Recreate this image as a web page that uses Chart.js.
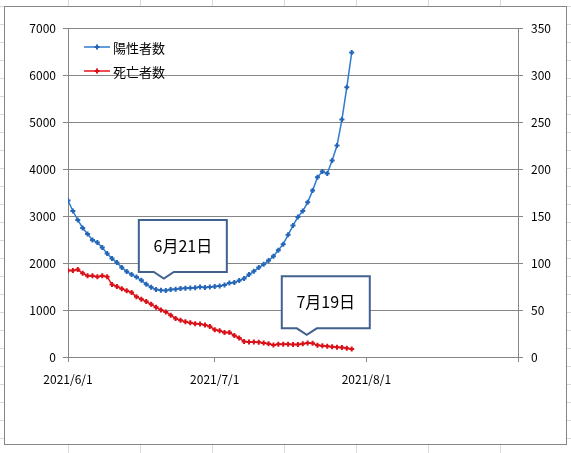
<!DOCTYPE html>
<html>
<head>
<meta charset="utf-8">
<script src="https://cdn.jsdelivr.net/npm/chart.js@4/dist/chart.umd.min.js"></script>
<style>
  html, body { margin: 0; padding: 0; }
  body {
    width: 571px; height: 453px; overflow: hidden; position: relative;
    background-color: #fff;
    background-image:
      linear-gradient(to right, #d9d9d9 1px, transparent 1px),
      linear-gradient(to bottom, #d9d9d9 1px, transparent 1px);
    background-size: 72px 18px;
    background-position: 68px 6px;
  }
  #frame {
    position: absolute; left: 4px; top: 6px; width: 563px; height: 439px;
    box-sizing: border-box; border: 1px solid #868686; background: #fff;
  }
  #chart { position: absolute; left: 0; top: 0; }
</style>
</head>
<body>
<div id="frame"></div>
<canvas id="chart" width="571" height="453"></canvas>
<script>
// days counted from 2021/6/1
const xTickDays = [0, 30, 61, 92];
const xTickLabels = ["2021/6/1", "2021/7/1", "2021/8/1", ""];

const positives = [
    3328, 3106, 2915, 2745, 2617, 2489, 2434, 2328, 2200, 2094,
    2009, 1902, 1817, 1753, 1700, 1632, 1547, 1483, 1434, 1419,
    1415, 1434, 1440, 1455, 1462, 1468, 1475, 1489, 1480, 1489,
    1498, 1511, 1532, 1574, 1583, 1626, 1668, 1753, 1823, 1902,
    1972, 2051, 2143, 2270, 2400, 2600, 2796, 2979, 3106, 3290,
    3540, 3823, 3945, 3902, 4179, 4498, 5051, 5738, 6477
];

const deaths = [
    92, 92, 93, 89, 86.5, 86.5, 85.5, 86.5, 85.5, 77,
    75, 72.5, 70.5, 68.5, 64, 61.5, 59, 56, 53, 50,
    48, 44.5, 41, 39, 37.5, 36.5, 35.5, 35, 34, 32.5,
    29, 28, 26, 26, 23, 20.2, 16.5, 16, 16, 15.6,
    15, 14, 12.8, 13.5, 13.5, 13.5, 13.2, 13.2, 14, 15,
    14.5, 12.5, 12, 11.5, 11, 10.5, 10, 9.3, 8.5
];

const seriesNames = ["陽性者数", "死亡者数"];

// callout notes: day index, series, label
const notes = [
    { day: 20, series: 0, text: "6月21日", dx: -2, dy: -12 },
    { day: 48, series: 1, text: "7月19日", dx: 4, dy: -9 }
];

const gray = "#868686";
const jpFont = '"Noto Sans CJK JP", "Noto Sans", sans-serif';

const toPoints = arr => arr.map((v, i) => ({ x: i, y: v }));

const overlay = {
    id: "overlay",
    afterDraw(chart) {
        const ctx = chart.ctx;
        const area = chart.chartArea;

        // legend inside plot
        chart.data.datasets.forEach((ds, i) => {
            const y = area.top + 19 + i * 24;
            const x0 = area.left + 16;
            ctx.save();
            ctx.strokeStyle = ds.borderColor;
            ctx.lineWidth = 1.5;
            ctx.beginPath();
            ctx.moveTo(x0, y);
            ctx.lineTo(x0 + 26, y);
            ctx.stroke();
            ctx.strokeStyle = ds.pointBorderColor;
            ctx.lineWidth = ds.pointBorderWidth;
            Chart.helpers.drawPoint(ctx, { pointStyle: "cross", radius: 2.5, borderWidth: 2 }, x0 + 13, y);
            ctx.fillStyle = "#000";
            ctx.font = "13px " + jpFont;
            ctx.textBaseline = "middle";
            ctx.textAlign = "left";
            ctx.fillText(ds.label, x0 + 29, y + 1);
            ctx.restore();
        });

        // callouts
        notes.forEach(n => {
            const yScale = chart.scales[n.series === 0 ? "y" : "y1"];
            const val = (n.series === 0 ? positives : deaths)[n.day];
            const tx = chart.scales.x.getPixelForValue(n.day) + n.dx;
            const ty = yScale.getPixelForValue(val) + n.dy;
            const left = tx - 25, right = left + 88;
            const bottom = ty - 6.5, top = bottom - 52;
            ctx.save();
            ctx.beginPath();
            ctx.moveTo(left, top);
            ctx.lineTo(right, top);
            ctx.lineTo(right, bottom);
            ctx.lineTo(tx + 10, bottom);
            ctx.lineTo(tx, ty);
            ctx.lineTo(tx - 10, bottom);
            ctx.lineTo(left, bottom);
            ctx.closePath();
            ctx.fillStyle = "#fff";
            ctx.fill();
            ctx.strokeStyle = "#41618f";
            ctx.lineWidth = 2;
            ctx.stroke();
            ctx.fillStyle = "#000";
            ctx.font = "16px " + jpFont;
            ctx.textAlign = "center";
            ctx.textBaseline = "middle";
            ctx.fillText(n.text, (left + right) / 2, (top + bottom) / 2);
            ctx.restore();
        });
    }
};

new Chart(document.getElementById("chart"), {
    type: "line",
    data: {
        datasets: [
            {
                label: seriesNames[0],
                data: toPoints(positives),
                yAxisID: "y",
                borderColor: "#2e7bcf",
                borderWidth: 1.5,
                pointStyle: "cross",
                pointRadius: 2.5,
                pointBorderWidth: 2,
                pointBorderColor: "#2465b5",
                tension: 0
            },
            {
                label: seriesNames[1],
                data: toPoints(deaths),
                yAxisID: "y1",
                borderColor: "#e8141c",
                borderWidth: 1.5,
                pointStyle: "cross",
                pointRadius: 2.5,
                pointBorderWidth: 2,
                pointBorderColor: "#d81018",
                tension: 0
            }
        ]
    },
    options: {
        responsive: false,
        animation: false,
        layout: { padding: { top: 28, left: 0, right: 0, bottom: 0 } },
        plugins: { legend: { display: false }, tooltip: { enabled: false } },
        scales: {
            x: {
                type: "linear",
                min: 0,
                max: 92,
                afterBuildTicks: scale => { scale.ticks = xTickDays.map(v => ({ value: v })); },
                afterFit: scale => { scale.height = 96; },
                grid: { drawOnChartArea: false, drawTicks: true, tickLength: 5, color: gray },
                border: { color: gray },
                ticks: {
                    autoSkip: false,
                    maxRotation: 0,
                    padding: 10,
                    color: "#000",
                    font: { family: jpFont, size: 12 },
                    callback: value => xTickLabels[xTickDays.indexOf(value)] ?? ""
                }
            },
            y: {
                position: "left",
                min: 0,
                max: 7000,
                afterFit: scale => { scale.width = 68; },
                grid: { color: gray, tickLength: 5 },
                border: { color: gray },
                ticks: {
                    stepSize: 1000, padding: 7, color: "#000",
                    font: { family: jpFont, size: 12 },
                    callback: value => String(value)
                }
            },
            y1: {
                position: "right",
                min: 0,
                max: 350,
                afterFit: scale => { scale.width = 53; },
                grid: { drawOnChartArea: false, color: gray, tickLength: 5 },
                border: { color: gray },
                ticks: {
                    stepSize: 50, padding: 8, color: "#000",
                    font: { family: jpFont, size: 12 },
                    callback: value => String(value)
                }
            }
        }
    },
    plugins: [overlay]
});
</script>
</body>
</html>
